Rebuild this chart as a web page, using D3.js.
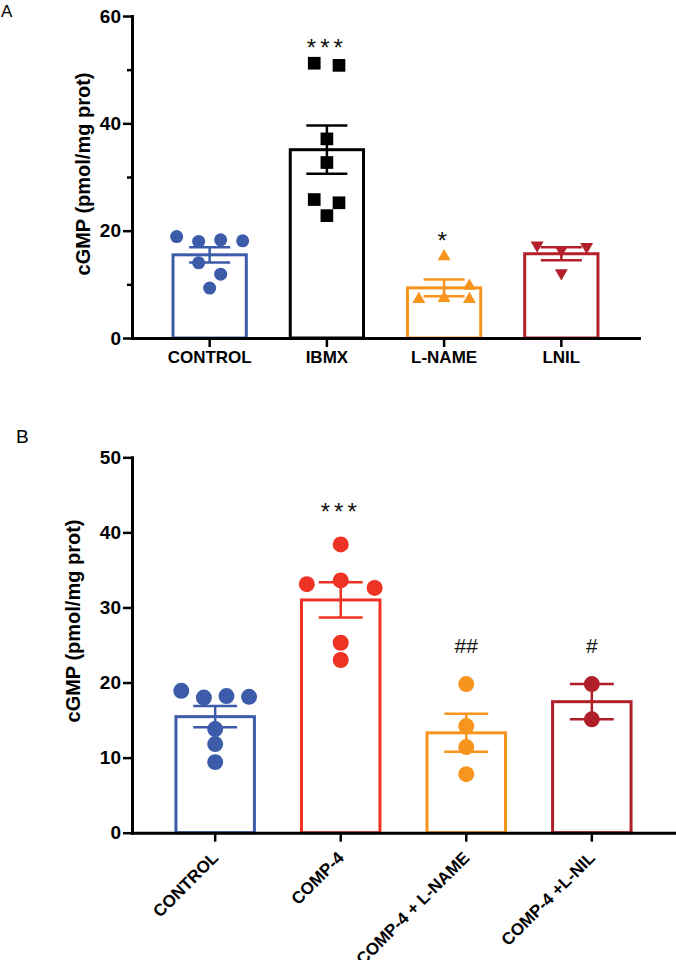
<!DOCTYPE html>
<html>
<head>
<meta charset="utf-8">
<script src="https://cdn.jsdelivr.net/npm/d3@7"></script>
<style>
  body { margin: 0; background: #fff; }
  svg { display: block; font-family: "Liberation Sans", Arial, sans-serif; }
</style>
</head>
<body>
<div id="chart"></div>
<script>
// ---- data ----
const panelACategories = ["CONTROL", "IBMX", "L-NAME", "LNIL"];
const panelAValues = [
  [18.9, 18.0, 18.3, 18.1, 14.0, 11.9, 9.3],
  [51.2, 50.8, 37.1, 32.7, 25.8, 25.2, 22.8],
  [15.2, 9.7, 7.2, 7.4, 7.2],
  [17.3, 16.4, 17.0, 12.1]
];
// horizontal scatter lanes of each point (GraphPad style spread)
const panelALanes = [
  [-3, -1, 1, 3, -1, 1, 0],
  [-1.15, 1.1, 0, 0, -1.15, 1.1, 0],
  [0, 2.3, -2.3, 0, 2.3],
  [-2.2, 0, 2.3, 0]
];
const panelAMarks = ["", "***", "*", ""];
const panelATicks = [0, 20, 40, 60];
const panelAMinorTicks = [10, 30, 50];

const panelBCategories = ["CONTROL", "COMP-4", "COMP-4 + L-NAME", "COMP-4 +L-NIL"];
const panelBValues = [
  [18.9, 18.0, 18.2, 18.1, 13.8, 11.8, 9.4],
  [33.1, 38.4, 33.6, 32.6, 25.3, 23.0],
  [19.8, 14.2, 11.4, 7.8],
  [19.8, 15.1]
];
const panelBLanes = [
  [-3, -1, 1, 3, 0, 0, 0],
  [-3, 0, 0, 3, 0, 0],
  [0, 0, 0, 0],
  [0, 0]
];
const panelBMarks = ["", "***", "##", "#"];
const panelBTicks = [0, 10, 20, 30, 40, 50];

const yTitle = "cGMP (pmol/mg prot)";

const width = 676, height = 960;
const svg = d3.select("#chart").append("svg")
  .attr("width", width)
  .attr("height", height);

function drawPanel(cfg) {
  const g = svg.append("g");

  const x = d3.scaleBand()
    .domain(cfg.categories)
    .range(cfg.xRange)
    .paddingInner(0.375)
    .paddingOuter(0.35);
  const y = d3.scaleLinear()
    .domain([0, d3.max(cfg.ticks)])
    .range(cfg.yRange);

  const groups = cfg.categories.map((c, i) => {
    const vals = cfg.values[i];
    const mean = d3.mean(vals);
    const sem = d3.deviation(vals) / Math.sqrt(vals.length);
    return { cat: c, i, vals, lanes: cfg.lanes[i], mean, sem, mark: cfg.marks[i] };
  });

  // bars
  g.selectAll("rect.bar")
    .data(groups)
    .enter().append("rect")
      .attr("class", "bar")
      .attr("x", (d) => x(d.cat))
      .attr("y", (d) => y(d.mean))
      .attr("width", x.bandwidth())
      .attr("height", (d) => y(0) - y(d.mean))
      .attr("fill", "#fff")
      .attr("stroke", (d) => cfg.colors[d.i])
      .attr("stroke-width", 3);

  // error bars (mean +/- SEM)
  const capW = x.bandwidth() * 0.56;
  groups.forEach((d) => {
    const cx = x(d.cat) + x.bandwidth() / 2;
    const col = cfg.colors[d.i];
    const eg = g.append("g")
      .attr("stroke", col)
      .attr("stroke-width", 2.5);
    eg.append("line")
      .attr("x1", cx).attr("x2", cx)
      .attr("y1", y(d.mean + d.sem)).attr("y2", y(d.mean - d.sem));
    [d.mean + d.sem, d.mean - d.sem].forEach((v) => {
      eg.append("line")
        .attr("x1", cx - capW / 2).attr("x2", cx + capW / 2)
        .attr("y1", y(v)).attr("y2", y(v));
    });
  });

  // points
  groups.forEach((d) => {
    const cx = x(d.cat) + x.bandwidth() / 2;
    const shape = cfg.shapes[d.i];
    const sym = d3.symbol()
      .type(shape === "square" ? d3.symbolSquare
          : (shape === "circle" ? d3.symbolCircle : d3.symbolTriangle))
      .size(cfg.sizes[d.i]);
    g.selectAll(null)
      .data(d.vals.map((v, k) => ({ v, lane: d.lanes[k] })))
      .enter().append("path")
        .attr("d", sym)
        .attr("transform", (p) =>
          `translate(${cx + p.lane * cfg.laneStep},${y(p.v)})` +
          (shape === "triangleDown" ? " rotate(180)" : ""))
        .attr("fill", cfg.colors[d.i]);
  });

  // significance marks above each group
  groups.filter((d) => d.mark).forEach((d) => {
    const cx = x(d.cat) + x.bandwidth() / 2;
    const star = d.mark.includes("*");
    g.append("text")
      .attr("x", cx)
      .attr("y", y(d3.max(d.vals)) - cfg.markGap)
      .attr("dy", star ? "0.58em" : "0.35em")
      .attr("text-anchor", "middle")
      .attr("font-size", star ? 24 : 21)
      .attr("letter-spacing", star ? 4 : 0)
      .attr("fill", "#111")
      .text(d.mark);
  });

  // y axis
  const yAxis = g.append("g")
    .attr("transform", `translate(${cfg.xRange[0]},0)`)
    .call(d3.axisLeft(y).tickValues(cfg.ticks).tickSize(9).tickSizeOuter(0).tickPadding(2));
  yAxis.selectAll("text")
    .attr("font-size", 19)
    .attr("font-weight", "bold")
    .attr("font-family", "Liberation Sans, Arial, sans-serif")
    .attr("fill", "#000");
  if (cfg.minorTicks) {
    g.append("g")
      .attr("transform", `translate(${cfg.xRange[0]},0)`)
      .call(d3.axisLeft(y).tickValues(cfg.minorTicks).tickSize(5).tickFormat(""))
      .call((a) => a.select(".domain").remove())
      .selectAll("line").attr("stroke-width", 2.5);
  }

  // x axis
  const xAxis = g.append("g")
    .attr("transform", `translate(0,${cfg.yRange[0]})`)
    .call(d3.axisBottom(x).tickSize(9).tickSizeOuter(0));
  xAxis.selectAll("text").remove();

  [yAxis, xAxis].forEach((a) => {
    a.select(".domain").attr("stroke-width", 3).attr("stroke-linecap", "square");
    a.selectAll(".tick line").attr("stroke-width", 2.5);
  });

  // category labels
  const labels = g.append("g");
  cfg.categories.forEach((c) => {
    const cx = x(c) + x.bandwidth() / 2;
    const t = labels.append("text")
      .attr("font-size", 17)
      .attr("font-weight", "bold")
      .attr("fill", "#000")
      .text(c);
    if (cfg.rotateLabels) {
      t.attr("text-anchor", "end")
        .attr("dy", "0.35em")
        .attr("transform", `translate(${cx},${cfg.yRange[0] + 22}) rotate(-45)`);
    } else {
      t.attr("text-anchor", "middle")
        .attr("x", cx)
        .attr("y", cfg.yRange[0] + 25);
    }
  });

  // y title
  g.append("text")
    .attr("transform", `translate(${cfg.titlePos[0]},${cfg.titlePos[1]}) rotate(-90)`)
    .attr("text-anchor", "middle")
    .attr("dy", "0.35em")
    .attr("font-size", 20)
    .attr("font-weight", "bold")
    .attr("fill", "#000")
    .text(yTitle);

  // panel letter
  g.append("text")
    .attr("x", cfg.letterPos[0])
    .attr("y", cfg.letterPos[1])
    .attr("font-size", cfg.letterSize)
    .attr("fill", "#000")
    .text(cfg.letter);
}

drawPanel({
  categories: panelACategories,
  values: panelAValues,
  lanes: panelALanes,
  marks: panelAMarks,
  ticks: panelATicks,
  minorTicks: panelAMinorTicks,
  xRange: [132, 639],
  yRange: [338, 16],
  colors: ["#3C5BA9", "#000000", "#F7941D", "#B3202A"],
  shapes: ["circle", "square", "triangle", "triangleDown"],
  sizes: [133, 161, 73, 73],
  laneStep: 11,
  markGap: 21,
  rotateLabels: false,
  titlePos: [83, 174],
  letter: "A",
  letterPos: [1, 17],
  letterSize: 17
});

drawPanel({
  categories: panelBCategories,
  values: panelBValues,
  lanes: panelBLanes,
  marks: panelBMarks,
  ticks: panelBTicks,
  minorTicks: null,
  xRange: [132, 675],
  yRange: [832.7, 457.3],
  colors: ["#3C5BA9", "#EE3224", "#F7941D", "#B01E28"],
  shapes: ["circle", "circle", "circle", "circle"],
  sizes: [201, 201, 201, 201],
  laneStep: 11.3,
  markGap: 38,
  rotateLabels: true,
  titlePos: [73, 621],
  letter: "B",
  letterPos: [16, 443],
  letterSize: 19
});
</script>
</body>
</html>
